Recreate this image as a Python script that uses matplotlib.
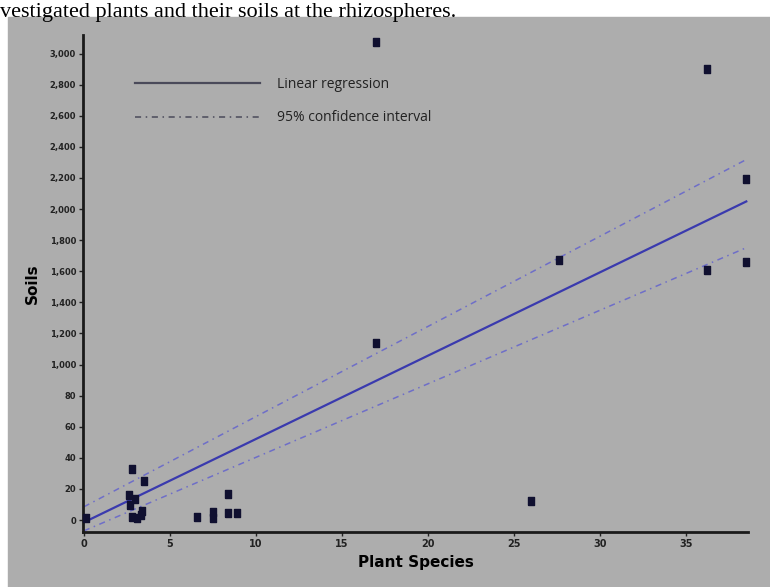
import numpy as np
import matplotlib.pyplot as plt
from matplotlib.patches import Rectangle

# data
plant_species = [0.1, 2.6, 2.8, 3.5, 3.0, 2.7, 3.4, 2.8, 3.1, 3.3,
                 6.6, 7.5, 7.5, 8.4, 8.4, 8.9,
                 17.0, 17.0, 27.6, 26.0, 36.2, 36.2, 38.5, 38.5]
soils = [10, 160, 330, 250, 135, 95, 58, 19, 13, 30,
         19, 50, 10, 167, 45, 45,
         3075, 1140, 1670, 120, 2900, 1610, 2190, 1660]

# regression and 95% band (intercept, slope)
reg = (-15, 53.6)
upper = (85, 58.0)
lower = (-70, 47.3)

yticks = [0, 200, 400, 600, 800, 1000, 1200, 1400, 1600, 1800,
          2000, 2200, 2400, 2600, 2800, 3000]
ylabels = ['0', '20', '40', '60', '80', '1,000', '1,200', '1,400', '1,600',
           '1,800', '2,000', '2,200', '2,400', '2,600', '2,800', '3,000']
xticks = [0, 5, 10, 15, 20, 25, 30, 35]

fig = plt.figure(figsize=(7.7, 5.87), dpi=100)
fig.patches.append(Rectangle((8 / 770, 0), 1, 1 - 17 / 587, transform=fig.transFigure,
                             color='#adadad', zorder=-10))
fig.text(0.0, 1 - 17 / 587, 'vestigated plants and their soils at the rhizospheres.',
         family='Liberation Serif', fontsize=16, va='baseline', ha='left', zorder=5)

ax = fig.add_axes([83 / 770, 1 - 532 / 587, (748 - 83) / 770, (532 - 35) / 587])
ax.set_facecolor('none')
ax.set_zorder(2)

xs = np.array([0, 38.5])
ax.plot(xs, reg[0] + reg[1] * xs, color='#3a3aae', lw=1.6, label='Linear regression')
ax.plot(xs, upper[0] + upper[1] * xs, color='#6e6ec8', lw=1.1, ls=(0, (4, 3, 1, 3)),
        label='95% confidence interval')
ax.plot(xs, lower[0] + lower[1] * xs, color='#6e6ec8', lw=1.1, ls=(0, (4, 3, 1, 3)))
box = [(-0.7, -1), (0.7, -1), (0.7, 1), (-0.7, 1), (-0.7, -1)]
ax.scatter(plant_species, soils, marker=box, s=40, color='#101030', zorder=3,
           clip_on=False)

ax.set_xlim(-0.05, 38.6)
ax.set_ylim(-77, 3119)
ax.set_xticks(xticks)
ax.set_yticks(yticks)
ax.set_yticklabels(ylabels)
ax.tick_params(length=3, width=1, colors='#222222', pad=2)
ax.tick_params(axis='y', labelsize=6)
ax.tick_params(axis='x', labelsize=7)
for lab in ax.get_xticklabels() + ax.get_yticklabels():
    lab.set_fontweight('bold')
for s in ['top', 'right']:
    ax.spines[s].set_visible(False)
for s in ['left', 'bottom']:
    ax.spines[s].set_linewidth(2)
    ax.spines[s].set_color('#1a1a1a')

ax.set_xlabel('Plant Species', fontsize=11, fontweight='bold', labelpad=4)
ax.set_ylabel('Soils', fontsize=11, fontweight='bold', labelpad=7)

leg = ax.legend(loc='upper left', bbox_to_anchor=(0.06, 0.94), frameon=False,
                handlelength=9, labelspacing=1.3, handletextpad=1.2,
                prop={'family': 'Open Sans', 'size': 10})
for h in leg.get_lines():
    h.set_color('#4a4a5a')
for t in leg.get_texts():
    t.set_color('#222222')

fig.savefig('out.png', dpi=100)
